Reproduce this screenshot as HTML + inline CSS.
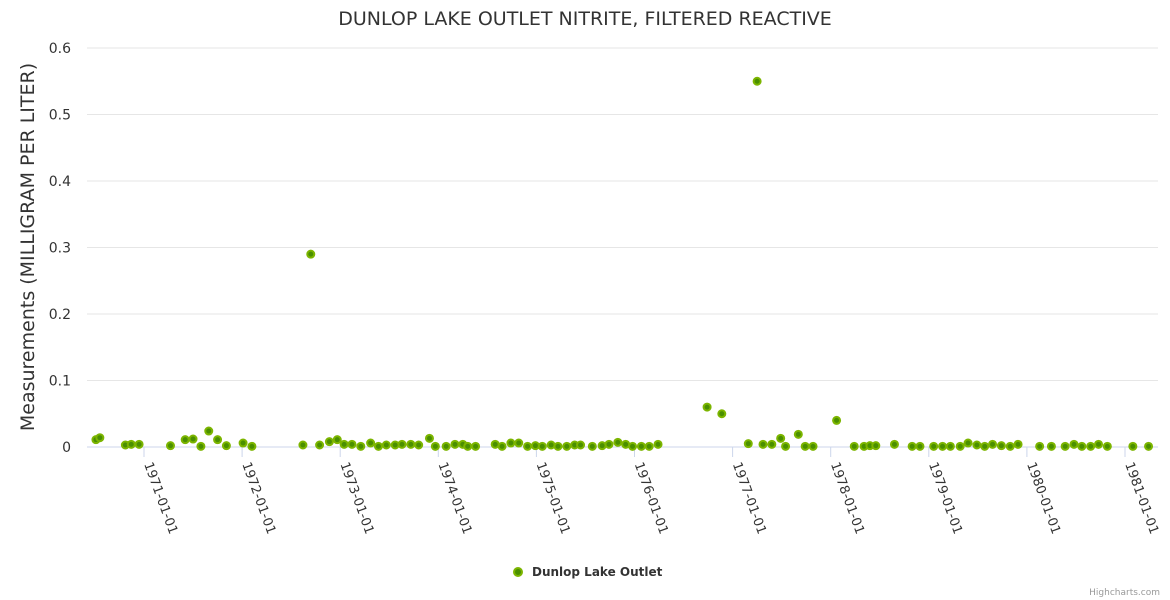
<!DOCTYPE html>
<html><head><meta charset="utf-8"><style>
body{margin:0;background:#fff;font-family:"DejaVu Sans","Liberation Sans",sans-serif}
</style></head><body>
<svg id="chart" width="1170" height="600" xmlns="http://www.w3.org/2000/svg" style="display:block;font-family:'DejaVu Sans','Liberation Sans',sans-serif">
<text x="585" y="25" text-anchor="middle" font-size="19" fill="#333">DUNLOP LAKE OUTLET NITRITE, FILTERED REACTIVE</text>
<text transform="translate(34,247) rotate(-90)" text-anchor="middle" font-size="19" fill="#333">Measurements (MILLIGRAM PER LITER)</text>
<g id="grid"></g><g id="xaxis"></g><g id="pts"></g>
<g>
<circle cx="518" cy="572" r="4" fill="#4a8f00" stroke="#7cb500" stroke-width="2"/>
<text x="532" y="576" font-size="12" font-weight="bold" fill="#333">Dunlop Lake Outlet</text></g>
<text x="1160" y="595" text-anchor="end" font-size="9" fill="#999">Highcharts.com</text>
</svg>
<script>
const yTicks=[0,0.1,0.2,0.3,0.4,0.5,0.6];
const xTickYears=[1971,1972,1973,1974,1975,1976,1977,1978,1979,1980,1981];
const dates=[1970.51,1970.55,1970.81,1970.87,1970.95,1971.27,1971.42,1971.50,1971.58,1971.66,1971.75,1971.84,1972.01,1972.10,1972.62,1972.70,1972.79,1972.89,1972.97,1973.04,1973.12,1973.21,1973.31,1973.39,1973.47,1973.56,1973.63,1973.72,1973.80,1973.91,1973.97,1974.08,1974.17,1974.25,1974.30,1974.38,1974.58,1974.65,1974.74,1974.82,1974.91,1974.99,1975.06,1975.15,1975.22,1975.31,1975.39,1975.45,1975.57,1975.67,1975.74,1975.83,1975.91,1975.98,1976.07,1976.15,1976.24,1976.74,1976.89,1977.16,1977.25,1977.31,1977.40,1977.49,1977.54,1977.67,1977.74,1977.82,1978.06,1978.24,1978.34,1978.40,1978.46,1978.65,1978.83,1978.91,1979.05,1979.14,1979.22,1979.32,1979.40,1979.49,1979.57,1979.65,1979.74,1979.83,1979.91,1980.13,1980.25,1980.39,1980.48,1980.56,1980.65,1980.73,1980.82,1981.08,1981.24];
const values=[0.011,0.014,0.003,0.004,0.004,0.002,0.011,0.012,0.001,0.024,0.011,0.002,0.006,0.001,0.003,0.29,0.003,0.008,0.011,0.004,0.004,0.001,0.006,0.001,0.003,0.003,0.004,0.004,0.003,0.013,0.001,0.001,0.004,0.004,0.001,0.001,0.004,0.001,0.006,0.006,0.001,0.002,0.001,0.003,0.001,0.001,0.003,0.003,0.001,0.002,0.004,0.007,0.004,0.001,0.001,0.001,0.004,0.06,0.05,0.005,0.55,0.004,0.004,0.013,0.001,0.019,0.001,0.001,0.04,0.001,0.001,0.002,0.002,0.004,0.001,0.001,0.001,0.001,0.001,0.001,0.006,0.003,0.001,0.004,0.002,0.001,0.004,0.001,0.001,0.001,0.004,0.001,0.001,0.004,0.001,0.001,0.001];
const NS='http://www.w3.org/2000/svg';
const X0=87,X1=1158,Y0=447,YT=48;
const xs=y=>144+(y-1971)*98.1;
const ys=v=>Y0-(v/0.6)*(Y0-YT);
function mk(t,a,p){const e=document.createElementNS(NS,t);for(const k in a)e.setAttribute(k,a[k]);p.appendChild(e);return e;}
const grid=document.getElementById('grid'),xa=document.getElementById('xaxis'),pts=document.getElementById('pts');
yTicks.forEach(v=>{
  if(v>0){const l=mk('line',{x1:X0,x2:X1,y1:ys(v),y2:ys(v),stroke:'#e6e6e6'},grid);
  
  }
  const t=mk('text',{x:71,y:ys(v)+5,'text-anchor':'end','font-size':14,fill:'#333'},grid);
  t.textContent=String(v);
  
  
});
const ax=mk('line',{x1:X0,x2:X1,y1:Y0,y2:Y0,stroke:'#ccd6eb'},xa);


xTickYears.forEach(yr=>{
  const x=xs(yr);
  const tk=mk('line',{x1:x,x2:x,y1:Y0,y2:Y0+10,stroke:'#ccd6eb'},xa);
  
  
  const t=mk('text',{x:x,y:Y0+17,'font-size':13,fill:'#333',transform:`rotate(70 ${x} ${Y0+17})`},xa);
  t.textContent=yr+'-01-01';
  
  
});
dates.forEach((d,i)=>{
  const c=mk('circle',{cx:xs(d),cy:ys(values[i]),r:3.5,fill:'#4a8f00',stroke:'#7cb500','stroke-width':2},pts);
  
  
});
</script>
</body></html>
